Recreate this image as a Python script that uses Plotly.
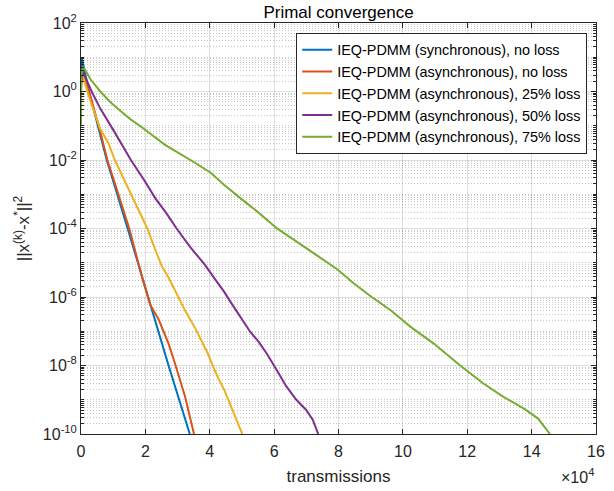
import plotly.graph_objects as go
import numpy as np

# ---- data (x: transmissions, y given as log10 of ||x(k)-x*||^2) ----
sync_noloss_x = [0, 200, 2500, 8000, 14500, 19000, 20800, 27200, 33800]
sync_noloss_log = [0.3, 1.0, 0.0, -2.0, -4.0, -5.43, -6.0, -8.0, -10.0]

async_noloss_x = [0, 300, 2500, 5500, 8200, 11500, 15000, 19000, 21600, 24100, 27200, 29200, 32300, 35100]
async_noloss_log = [0.2, 0.6, 0.0, -1.0, -2.0, -3.0, -4.0, -5.43, -6.25, -6.65, -7.36, -7.94, -8.9, -10.0]

async_25_x = [0, 400, 2000, 3000, 6000, 8500, 10500, 13000, 16000, 18500, 20600, 23000, 25100, 27200,
              30200, 32300, 35300, 39400, 40900, 42400, 44500, 46500, 48600, 50100]
async_25_log = [0.0, 0.5, 0.0, -0.3, -1.1, -1.5, -2.0, -2.5, -3.12, -3.6, -4.0, -4.6, -5.1, -5.43,
                -6.0, -6.39, -6.88, -7.65, -8.0, -8.32, -8.71, -9.19, -9.67, -10.0]

async_50_x = [0, 500, 3300, 6000, 10200, 13000, 15500, 20000, 23100, 26500, 29700, 34000, 38400, 41400,
              44500, 46500, 49600, 52600, 55200, 57700, 60800, 63800, 66900, 69900, 72000, 73700]
async_50_log = [0.2, 0.6, 0.0, -0.5, -1.15, -1.6, -2.0, -2.64, -3.12, -3.55, -4.0, -4.55, -5.05, -5.45,
                -5.85, -6.15, -6.6, -7.02, -7.31, -7.65, -8.13, -8.61, -9.0, -9.29, -9.58, -10.0]

async_75_x = [0, 100, 700, 3000, 6000, 9000, 12000, 15500, 19000, 22500, 26000, 30000, 34000, 40400,
              44500, 49600, 54700, 60800, 66900, 73500, 79600, 84700, 90300, 96400, 102500, 109600,
              117800, 124900, 131000, 138100, 142000, 145700]
async_75_log = [-1.0, 0.5, 0.72, 0.35, 0.0, -0.3, -0.55, -0.82, -1.05, -1.3, -1.55, -1.78, -2.0, -2.38,
                -2.73, -3.12, -3.5, -3.99, -4.37, -4.8, -5.19, -5.6, -6.0, -6.4, -6.88, -7.36,
                -8.0, -8.52, -8.9, -9.29, -9.55, -10.0]

series_names = [
    "IEQ-PDMM (synchronous), no loss",
    "IEQ-PDMM (asynchronous), no loss",
    "IEQ-PDMM (asynchronous), 25% loss",
    "IEQ-PDMM (asynchronous), 50% loss",
    "IEQ-PDMM (asynchronous), 75% loss",
]
series_colors = ["#0072BD", "#D95319", "#EDB120", "#7E2F8E", "#77AC30"]

x_tick_vals = [0, 20000, 40000, 60000, 80000, 100000, 120000, 140000, 160000]
x_tick_text = ["0", "2", "4", "6", "8", "10", "12", "14", "16"]
y_tick_exps = [-10, -8, -6, -4, -2, 0, 2]

# ---- figure ----
fig = go.Figure()
all_x = [sync_noloss_x, async_noloss_x, async_25_x, async_50_x, async_75_x]
all_log = [sync_noloss_log, async_noloss_log, async_25_log, async_50_log, async_75_log]
for xs, ls, name, col in zip(all_x, all_log, series_names, series_colors):
    fig.add_trace(go.Scatter(
        x=xs, y=np.power(10.0, np.array(ls)), mode="lines", name=name,
        line=dict(color=col, width=2),
    ))

axis_col = "#262626"
grid_major = "rgba(38,38,38,0.15)"
grid_minor = "rgba(38,38,38,0.25)"

y_tick_vals = [10.0 ** e for e in y_tick_exps]
y_tick_text = ["10<sup>%d</sup>" % e for e in y_tick_exps]
minor_vals = []
for n in range(-10, 2):
    for k in range(1, 10):
        if k == 1 and n in y_tick_exps:
            continue
        minor_vals.append(k * 10.0 ** n)

fig.update_layout(
    width=614, height=491,
    margin=dict(l=81, r=9, t=23, b=53),
    paper_bgcolor="white", plot_bgcolor="white",
    font=dict(family="Liberation Sans, Arial, sans-serif", size=16, color=axis_col),
    title=dict(text="Primal convergence", x=0.5, xref="paper", xanchor="center",
               y=1 - 12 / 491, yref="container", yanchor="middle",
               font=dict(size=17, color="black")),
    showlegend=True,
    legend=dict(x=(300 - 81) / 524, y=(438 - 33) / 415, xanchor="left", yanchor="top",
                bgcolor="white", bordercolor=axis_col, borderwidth=1,
                font=dict(size=14.4, color="black"), tracegroupgap=0, itemwidth=30),
    xaxis=dict(
        range=[0, 160000], tickmode="array", tickvals=x_tick_vals, ticktext=x_tick_text,
        ticks="inside", ticklen=5, tickcolor=axis_col, showline=True, linecolor=axis_col,
        linewidth=1, mirror="allticks", showgrid=True, gridcolor=grid_major, gridwidth=1,
        zeroline=False, ticklabelstandoff=3,
        title=dict(text="transmissions", font=dict(size=17), standoff=10),
    ),
    yaxis=dict(
        type="log", range=[-10, 2], tickmode="array", tickvals=y_tick_vals, ticktext=y_tick_text,
        ticks="inside", ticklen=5, tickcolor=axis_col, showline=True, linecolor=axis_col,
        linewidth=1, mirror="allticks", showgrid=True, gridcolor=grid_major, gridwidth=1,
        zeroline=False,
        minor=dict(tickmode="array", tickvals=minor_vals, ticks="inside", ticklen=3,
                   tickcolor=axis_col, showgrid=True, gridcolor=grid_minor,
                   griddash="1px,2px", gridwidth=1),
        title=dict(text="||x<sup>(k)</sup>-x<sup>*</sup>||<sup>2</sup>", font=dict(size=17), standoff=8),
    ),
)

fig.add_annotation(text="×10<sup>4</sup>", xref="paper", yref="paper",
                   x=1.0, y=(438 - 480) / 415, xanchor="right", yanchor="middle",
                   showarrow=False, font=dict(size=16, color=axis_col))

fig.write_html("out.html")
